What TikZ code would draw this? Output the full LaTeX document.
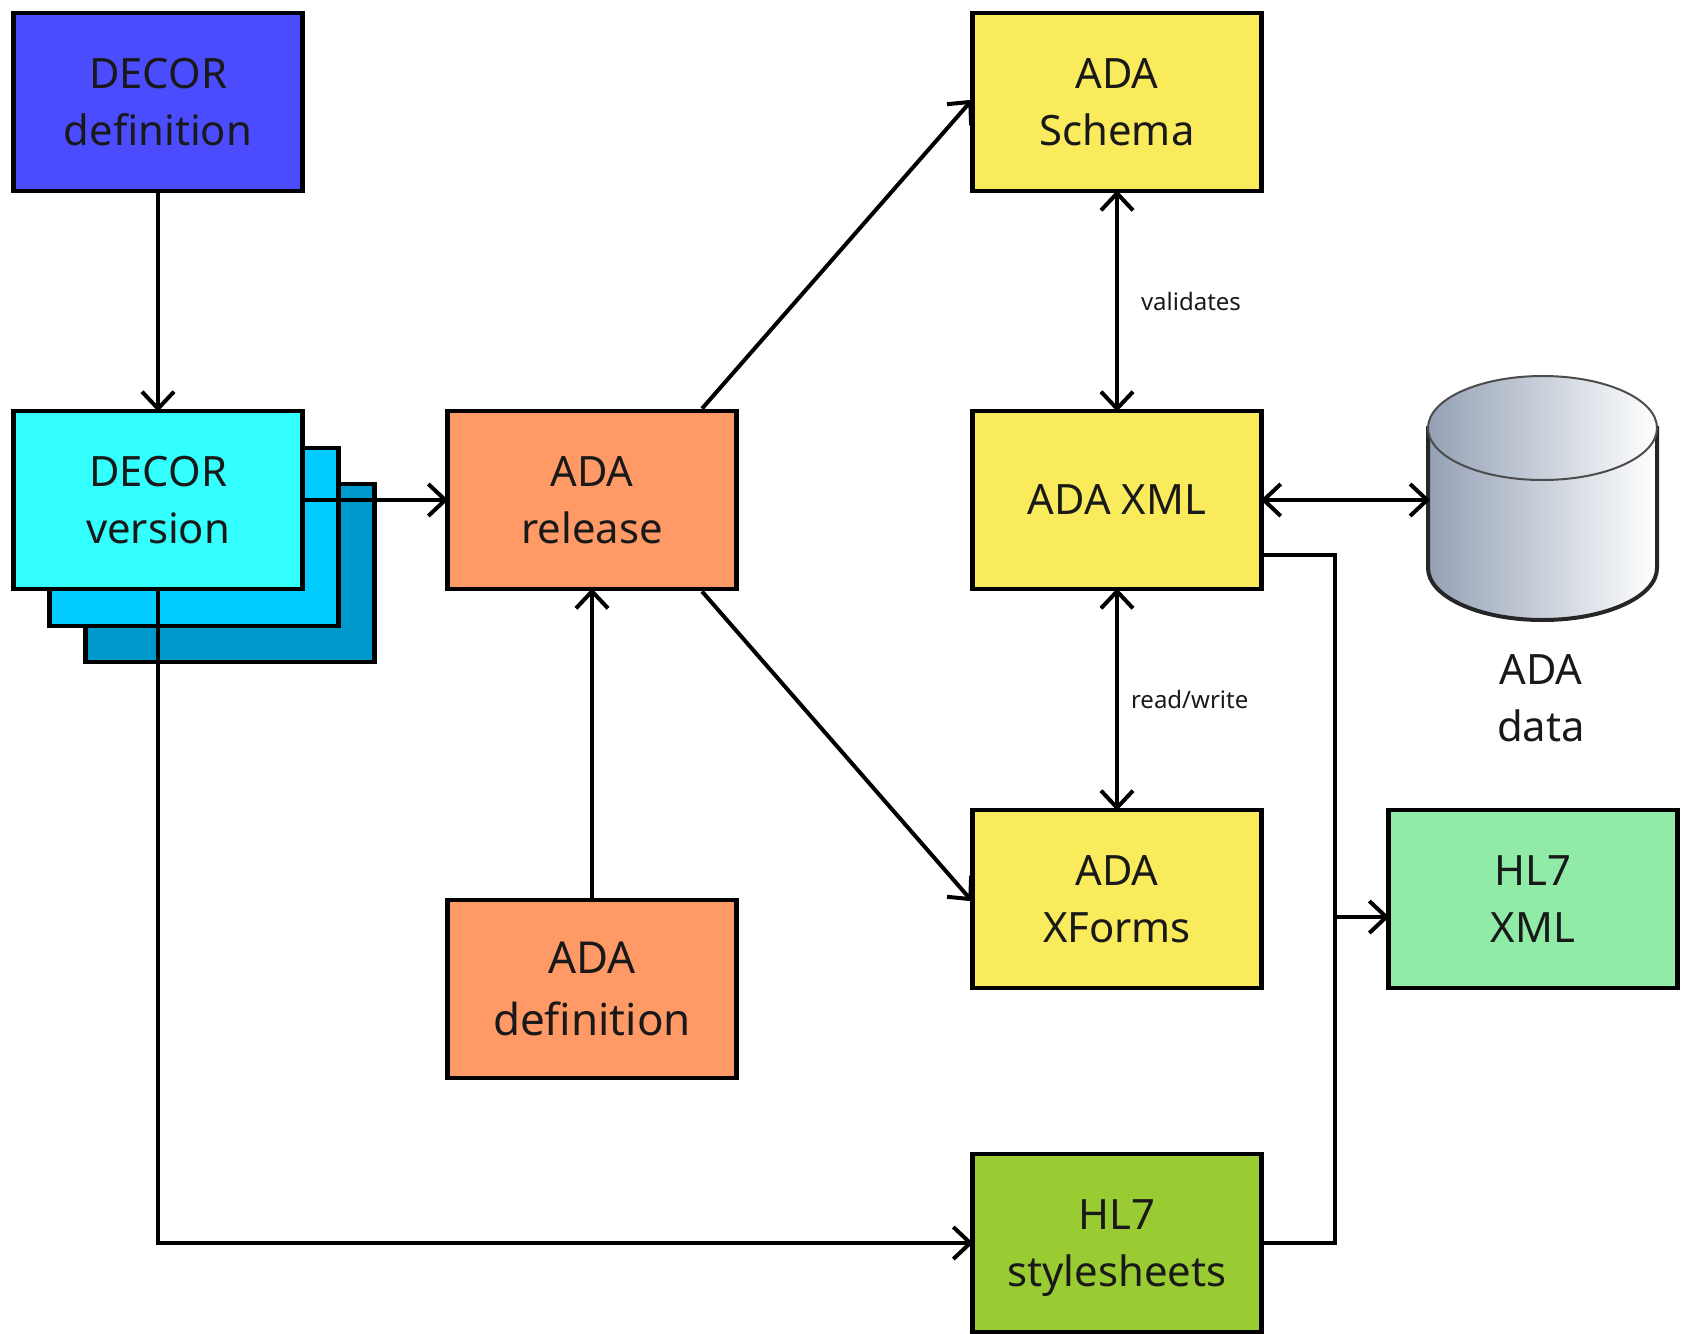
\documentclass[tikz,border=0pt]{standalone}
\usepackage{fontspec}
\setmainfont{Noto Sans}
\usetikzlibrary{arrows.meta}
\definecolor{decorblue}{rgb}{0.3,0.3,1.0}
\definecolor{versiona}{rgb}{0.2,1.0,1.0}
\definecolor{versionb}{rgb}{0.0,0.8,1.0}
\definecolor{versionc}{rgb}{0.0,0.6,0.8}
\definecolor{adaorange}{rgb}{1.0,0.6,0.4}
\definecolor{adayellow}{rgb}{0.98,0.92,0.36}
\definecolor{hlgreen}{rgb}{0.56,0.92,0.65}
\definecolor{hlolive}{rgb}{0.6,0.8,0.2}
\definecolor{inktext}{rgb}{0.1,0.1,0.1}
\definecolor{storegrey}{rgb}{0.58,0.63,0.71}
\tikzset{
  block/.style={draw=black,line width=2.2pt,minimum width=144.6pt,minimum height=89.2pt,
    align=center,text=inktext,inner sep=0pt,font=\fontsize{20.9}{28.5}\selectfont},
  link/.style={draw=black,line width=2pt},
  linkto/.style={link,shorten >=-1.5pt,-{Straight Barb[length=8.5pt,width=16pt,line width=2pt]}},
  linkboth/.style={link,shorten >=-1.5pt,shorten <=-1.5pt,{Straight Barb[length=8.5pt,width=16pt,line width=2pt]}-{Straight Barb[length=8.5pt,width=16pt,line width=2pt]}},
  smalllabel/.style={text=inktext,inner sep=0pt,font=\fontsize{12}{14}\selectfont},
  storelabel/.style={text=inktext,inner sep=0pt,align=center,font=\fontsize{20.9}{28.5}\selectfont}
}

\begin{document}
\begin{tikzpicture}[x=0.5pt,y=-0.5pt]

  \useasboundingbox (0,0) rectangle (1685,1333);

  \node[block,fill=decorblue] (definition) at (158,102) {DECOR\\definition};

  \node[block,fill=versionc] (versionback) at (230,573) {};
  \node[block,fill=versionb] (versionmid) at (194,537) {};
  \node[block,fill=versiona] (version) at (158,500) {DECOR\\version};

  \node[block,fill=adaorange] (release) at (592,500) {ADA\\release};
  \node[block,fill=adaorange,font=\fontsize{22}{31}\selectfont] (adadef) at (592,989) {ADA\\definition};

  \node[block,fill=adayellow] (schema) at (1117,102) {ADA\\Schema};
  \node[block,fill=adayellow] (xml) at (1117,500) {ADA XML};
  \node[block,fill=adayellow] (xforms) at (1117,899) {ADA\\XForms};

  \node[block,fill=hlolive] (stylesheets) at (1117,1243) {HL7\\\smash{stylesheets}};
  \node[block,fill=hlgreen] (hlxml) at (1533,899) {HL7\\XML};

  \shade[left color=storegrey,middle color=storegrey!32!white,right color=white,draw=black!85,line width=2pt]
    (1428,428) -- (1428,568) arc[start angle=180,end angle=0,x radius=114.5,y radius=52] -- (1657,428) -- cycle;
  \shade[left color=storegrey,middle color=storegrey!32!white,right color=white,draw=black!70,line width=1pt]
    (1542.5,428) circle[x radius=114.5,y radius=52];
  \coordinate (store) at (1427,500);
  \node[storelabel] (storetext) at (1541,698) {ADA\\data};

  \coordinate (bend) at (1335,917);

  \draw[linkto] (definition) -- (version);
  \draw[linkto] (version.east) -- (release.west);
  \draw[linkto] (version.south) |- (stylesheets.west);
  \draw[linkto] ([xshift=55pt]release.north) -- (schema.west);
  \draw[linkto] ([xshift=55pt]release.south) -- (xforms.west);
  \draw[linkto] (adadef) -- (release);

  \draw[linkboth] (schema) -- node[smalllabel,pos=0.5,right=11pt] (validates) {validates} (xml);
  \draw[linkboth] (xml) -- node[smalllabel,pos=0.5,right=6pt] (readwrite) {read/write} (xforms);
  \draw[linkboth] (xml.east) -- (store);

  \draw[link] ([yshift=-27.5pt]xml.east) -| (bend) |- (stylesheets.east);
  \draw[linkto] (bend) -- (bend -| hlxml.west);

\end{tikzpicture}
\end{document}
